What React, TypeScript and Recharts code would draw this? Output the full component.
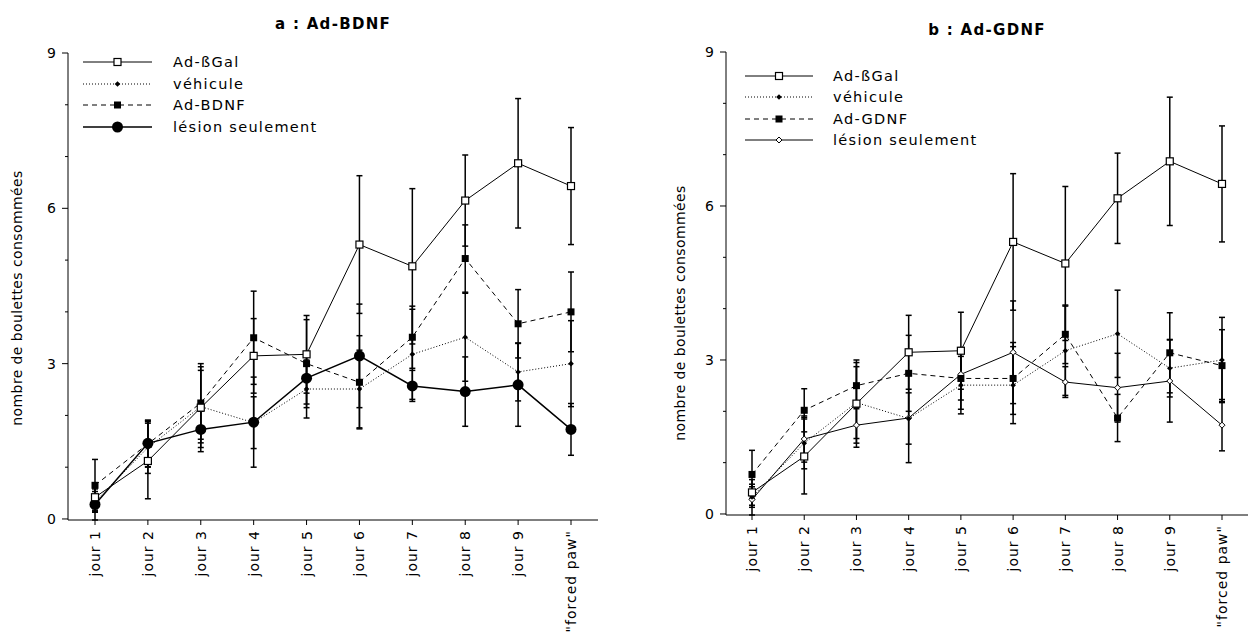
import React from "react";
import { ErrorBar, Line, LineChart, XAxis, YAxis } from "recharts";

const categories = ["jour 1", "jour 2", "jour 3", "jour 4", "jour 5", "jour 6", "jour 7", "jour 8", "jour 9", '"forced paw"'];
const yTicks = [0, 1, 2, 3, 4, 5, 6, 7, 8, 9];

// shared groups (same in both panels)
const galMean = [0.42, 1.12, 2.15, 3.15, 3.18, 5.3, 4.88, 6.15, 6.87, 6.43];
const galErr = [0.25, 0.73, 0.85, 0.72, 0.75, 1.33, 1.5, 0.88, 1.25, 1.13];
const vehMean = [0.33, 1.38, 2.17, 1.86, 2.51, 2.51, 3.18, 3.51, 2.84, 3.0];
const vehErr = [0.2, 0.5, 0.7, 0.5, 0.56, 0.75, 0.87, 0.85, 0.56, 0.83];
const lesMean = [0.28, 1.46, 1.73, 1.87, 2.72, 3.15, 2.57, 2.46, 2.59, 1.73];
const lesErr = [0.3, 0.45, 0.35, 0.87, 0.5, 1.0, 0.3, 0.67, 0.8, 0.5];

// panel a
const bdnfMean = [0.65, 1.45, 2.24, 3.5, 3.0, 2.64, 3.51, 5.03, 3.77, 4.0];
const bdnfErr = [0.5, 0.45, 0.7, 0.9, 0.85, 0.9, 0.6, 0.65, 0.66, 0.77];

// panel b
const gdnfMean = [0.77, 2.02, 2.5, 2.74, 2.64, 2.64, 3.5, 1.87, 3.14, 2.89];
const gdnfErr = [0.47, 0.42, 0.45, 0.74, 0.6, 0.7, 0.57, 0.46, 0.78, 0.7];

const FONT = '"DejaVu Sans", sans-serif';

const OpenSquare = ({ cx, cy }: any) => (
  <rect x={cx - 3.5} y={cy - 3.5} width={7} height={7} fill="#fff" stroke="#000" strokeWidth={1.2} />
);
const FilledSquare = ({ cx, cy }: any) => <rect x={cx - 3.5} y={cy - 3.5} width={7} height={7} fill="#000" />;
const SmallDiamond = ({ cx, cy }: any) => (
  <path d={`M${cx},${cy - 2.8}L${cx + 2.8},${cy}L${cx},${cy + 2.8}L${cx - 2.8},${cy}Z`} fill="#000" />
);
const OpenDiamond = ({ cx, cy }: any) => (
  <path d={`M${cx},${cy - 3}L${cx + 3},${cy}L${cx},${cy + 3}L${cx - 3},${cy}Z`} fill="#fff" stroke="#000" strokeWidth={1} />
);
const BigCircle = ({ cx, cy }: any) => <circle cx={cx} cy={cy} r={5.5} fill="#000" />;

const YTick = (props: any) => {
  const { x, y, payload } = props;
  const major = payload.value % 3 === 0;
  return (
    <g>
      <line x1={x - (major ? 6 : 3)} y1={y} x2={x} y2={y} stroke="#000" strokeWidth={1} />
      {major && (
        <text x={x - 12} y={y} dy={5} textAnchor="end" fontSize={14} fontFamily={FONT} fill="#000">
          {payload.value}
        </text>
      )}
    </g>
  );
};

const XTick = (props: any) => {
  const { x, y, payload } = props;
  return (
    <g>
      <line x1={x} y1={y} x2={x} y2={y + 5} stroke="#000" strokeWidth={1} />
      <text
        x={x}
        y={y + 10}
        dy={5}
        transform={`rotate(-90 ${x} ${y + 10})`}
        textAnchor="end"
        fontSize={14}
        letterSpacing={1}
        fontFamily={FONT}
        fill="#000"
      >
        {payload.value}
      </text>
    </g>
  );
};

type PanelProps = {
  left: number;
  width: number;
  plotTop: number;
  plotBottom: number;
  yAxisWidth: number;
  pad: number;
  title: string;
  titleX: number;
  titleY: number;
  trtName: string;
  trtMean: number[];
  trtErr: number[];
  bigLesion: boolean;
  legendX1: number;
  legendX2: number;
  legendTextX: number;
  legendRows: number[];
  yLabelX: number;
  yLabelY: number;
};

function Panel(p: PanelProps) {
  const rows = categories.map((jour, i) => ({
    jour,
    gal: galMean[i],
    galErr: galErr[i],
    veh: vehMean[i],
    vehErr: vehErr[i],
    trt: p.trtMean[i],
    trtErr: p.trtErr[i],
    les: lesMean[i],
    lesErr: lesErr[i],
  }));
  const LesionMark = p.bigLesion ? BigCircle : OpenDiamond;
  const legendItems = [
    { name: "Ad-ßGal", dash: undefined, Mark: OpenSquare },
    { name: "véhicule", dash: "1 2", Mark: SmallDiamond },
    { name: p.trtName, dash: "5 4", Mark: FilledSquare },
    { name: "lésion seulement", dash: undefined, Mark: LesionMark },
  ];
  const mx = (p.legendX1 + p.legendX2) / 2;

  return (
    <div style={{ position: "absolute", left: p.left, top: 0, width: p.width, height: 634 }}>
      <LineChart width={p.width} height={634} data={rows} margin={{ top: p.plotTop, right: 0, bottom: 0, left: 0 }}>
        <XAxis
          dataKey="jour"
          scale="point"
          padding={{ left: p.pad, right: p.pad }}
          height={634 - p.plotBottom}
          interval={0}
          tickLine={false}
          tickSize={0}
          tickMargin={0}
          tick={<XTick />}
          stroke="#000"
        />
        <YAxis
          type="number"
          domain={[0, 9]}
          ticks={yTicks}
          interval={0}
          width={p.yAxisWidth}
          tickLine={false}
          tickSize={0}
          tickMargin={0}
          tick={<YTick />}
          stroke="#000"
          label={() => (
            <text
              x={p.yLabelX}
              y={p.yLabelY}
              dy={5}
              transform={`rotate(-90 ${p.yLabelX} ${p.yLabelY})`}
              textAnchor="middle"
              fontSize={14}
              letterSpacing={0.4}
              fontFamily={FONT}
              fill="#000"
            >
              nombre de boulettes consommées
            </text>
          )}
        />
        <Line
          dataKey="les"
          stroke="#000"
          strokeWidth={p.bigLesion ? 1.5 : 1}
          isAnimationActive={false}
          activeDot={false}
          dot={(d: any) => <LesionMark key={`l${d.index}`} cx={d.cx} cy={d.cy} />}
        >
          <ErrorBar dataKey="lesErr" width={3} stroke="#000" strokeWidth={1.5} direction="y" isAnimationActive={false} />
        </Line>
        <Line
          dataKey="veh"
          stroke="#000"
          strokeWidth={1}
          strokeDasharray="1 2"
          isAnimationActive={false}
          activeDot={false}
          dot={(d: any) => <SmallDiamond key={`v${d.index}`} cx={d.cx} cy={d.cy} />}
        >
          <ErrorBar dataKey="vehErr" width={3} stroke="#000" strokeWidth={1.5} direction="y" isAnimationActive={false} />
        </Line>
        <Line
          dataKey="trt"
          stroke="#000"
          strokeWidth={1}
          strokeDasharray="5 4"
          isAnimationActive={false}
          activeDot={false}
          dot={(d: any) => <FilledSquare key={`t${d.index}`} cx={d.cx} cy={d.cy} />}
        >
          <ErrorBar dataKey="trtErr" width={3} stroke="#000" strokeWidth={1.5} direction="y" isAnimationActive={false} />
        </Line>
        <Line
          dataKey="gal"
          stroke="#000"
          strokeWidth={1}
          isAnimationActive={false}
          activeDot={false}
          dot={(d: any) => <OpenSquare key={`g${d.index}`} cx={d.cx} cy={d.cy} />}
        >
          <ErrorBar dataKey="galErr" width={3} stroke="#000" strokeWidth={1.5} direction="y" isAnimationActive={false} />
        </Line>
      </LineChart>
      <svg
        width={p.width}
        height={634}
        style={{ position: "absolute", left: 0, top: 0, pointerEvents: "none" }}
      >
        <text
          x={p.titleX}
          y={p.titleY}
          textAnchor="middle"
          fontSize={15}
          fontWeight="bold"
          letterSpacing={1.3}
          fontFamily={FONT}
          fill="#000"
        >
          {p.title}
        </text>
        {legendItems.map((it, i) => {
          const y = p.legendRows[i];
          const Mark = it.Mark;
          return (
            <g key={it.name}>
              <line
                x1={p.legendX1}
                y1={y}
                x2={p.legendX2}
                y2={y}
                stroke="#000"
                strokeWidth={it.Mark === BigCircle ? 1.5 : 1}
                strokeDasharray={it.dash}
              />
              <Mark cx={mx} cy={y} />
              <text x={p.legendTextX} y={y} dy={5} fontSize={14.5} letterSpacing={1.3} fontFamily={FONT} fill="#000">
                {it.name}
              </text>
            </g>
          );
        })}
      </svg>
    </div>
  );
}

export default function App() {
  return (
    <div style={{ position: "absolute", left: 0, top: 0, width: 1248, height: 634, background: "#fff" }}>
      <Panel
        left={0}
        width={598}
        plotTop={53}
        plotBottom={520}
        yAxisWidth={68}
        pad={27}
        title="a : Ad-BDNF"
        titleX={333}
        titleY={29}
        trtName="Ad-BDNF"
        trtMean={bdnfMean}
        trtErr={bdnfErr}
        bigLesion={true}
        legendX1={83}
        legendX2={152}
        legendTextX={173}
        legendRows={[62, 84, 105, 127]}
        yLabelX={17}
        yLabelY={298}
      />
      <Panel
        left={620}
        width={628}
        plotTop={52}
        plotBottom={515}
        yAxisWidth={106}
        pad={26}
        title="b : Ad-GDNF"
        titleX={367}
        titleY={35}
        trtName="Ad-GDNF"
        trtMean={gdnfMean}
        trtErr={gdnfErr}
        bigLesion={false}
        legendX1={125}
        legendX2={193}
        legendTextX={213}
        legendRows={[76, 97, 119, 140]}
        yLabelX={60}
        yLabelY={313}
      />
    </div>
  );
}
